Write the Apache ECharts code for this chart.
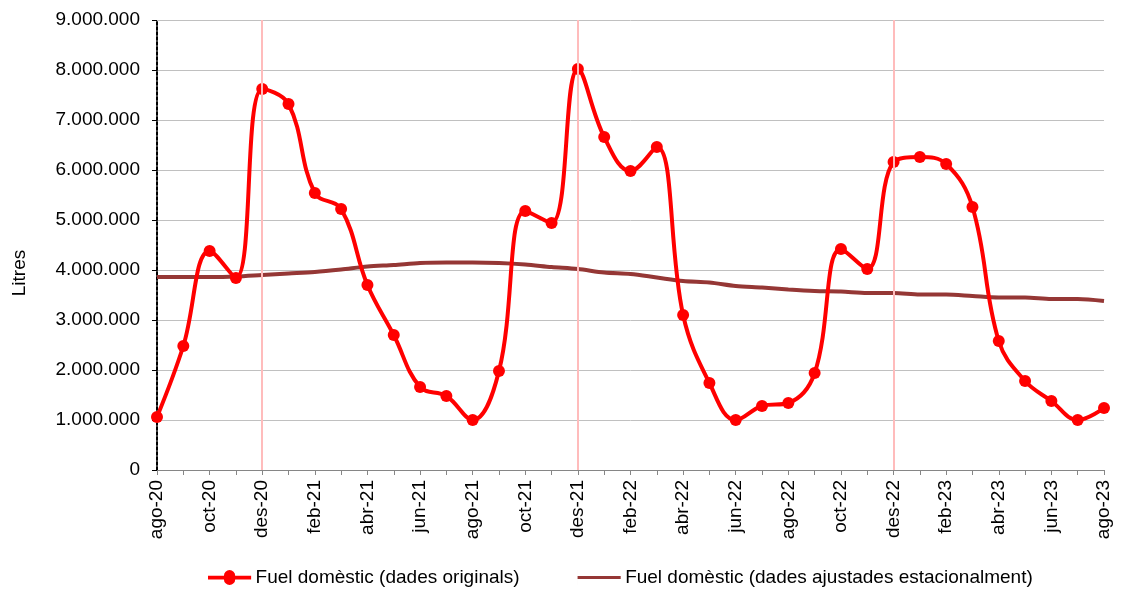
<!DOCTYPE html>
<html><head><meta charset="utf-8">
<script src="https://cdn.jsdelivr.net/npm/echarts@6/dist/echarts.min.js"></script>
<style>html,body{margin:0;padding:0;background:#fff}#c{width:1121px;height:592px}</style>
</head><body><div id="c"></div>
<script>
const categories = ['ago-20','set-20','oct-20','nov-20','des-20','gen-21','feb-21','mar-21','abr-21','mai-21','jun-21','jul-21',
 'ago-21','set-21','oct-21','nov-21','des-21','gen-22','feb-22','mar-22','abr-22','mai-22','jun-22','jul-22',
 'ago-22','set-22','oct-22','nov-22','des-22','gen-23','feb-23','mar-23','abr-23','mai-23','jun-23','jul-23','ago-23'];
const original = [1060000,2480000,4380000,3840000,7620000,7320000,5540000,5220000,3700000,2700000,1660000,1480000,
 1000000,1980000,5180000,4940000,8020000,6660000,5980000,6460000,3100000,1740000,1000000,1280000,
 1340000,1940000,4420000,4020000,6160000,6260000,6120000,5260000,2580000,1780000,1380000,1000000,1240000];
const adjusted = [3860000,3860000,3860000,3870000,3900000,3930000,3960000,4010000,4070000,4100000,4140000,4150000,
 4150000,4140000,4110000,4060000,4020000,3950000,3920000,3850000,3780000,3750000,3680000,3650000,
 3610000,3580000,3570000,3540000,3540000,3510000,3510000,3480000,3450000,3450000,3420000,3420000,3380000];
const markerMonths = ['des-20','des-21','des-22'];
const seriesNames = ['Fuel domèstic (dades originals)','Fuel domèstic (dades ajustades estacionalment)'];
const yAxisTitle = 'Litres';

const FONT = 'Liberation Sans, Arial, sans-serif';
const fmt = v => String(v).replace(/\B(?=(\d{3})+(?!\d))/g, '.');
const chart = echarts.init(document.getElementById('c'));
chart.setOption({
  animation:false,
  textStyle:{fontFamily:FONT},
  grid:{left:157,right:17,top:20,bottom:122},
  graphic:[{type:'text',x:20,y:273,rotation:Math.PI/2,
    style:{text:yAxisTitle,fontSize:19,fontFamily:FONT,fill:'#000',textAlign:'center',textVerticalAlign:'middle'}}],
  legend:{top:563,left:203,itemWidth:46,itemHeight:15,itemGap:58,
    textStyle:{fontSize:19,color:'#000',fontFamily:FONT,padding:[0,0,0,-2]},
    data:[{name:seriesNames[0],icon:'path://M0,5L17,5A6,6 0 0 1 29,5L46,5L46,9L29,9A6,6 0 0 1 17,9L0,9Z'},
          {name:seriesNames[1],icon:'path://M0,-1L0.01,-1L0.01,5.5L46,5.5L46,8.5L0.01,8.5L0.01,15L0,15Z'}]},
  xAxis:{type:'category',data:categories,boundaryGap:false,
    axisLine:{lineStyle:{color:'#868686',width:1}},
    axisTick:{show:true,interval:0,length:5,lineStyle:{color:'#868686'}},
    axisLabel:{interval:1,rotate:90,fontSize:19,color:'#000',margin:10,fontFamily:FONT},
    splitLine:{show:false}},
  yAxis:{type:'value',min:0,max:9000000,interval:1000000,
    axisLine:{show:true,lineStyle:{color:'#000',width:2,type:[3,2]}},
    axisTick:{show:true,length:5,lineStyle:{color:'#000'}},
    axisLabel:{fontSize:19,color:'#000',margin:17,formatter:fmt,fontFamily:FONT},
    splitLine:{show:true,lineStyle:{color:'#c0c0c0',width:1}}},
  series:[
    {name:seriesNames[1],type:'line',data:adjusted,smooth:0.3,symbol:'none',z:2,
      lineStyle:{color:'#953735',width:4},itemStyle:{color:'#953735'},
      markLine:{silent:true,symbol:'none',label:{show:false},
        lineStyle:{color:'#ffbcbc',width:2,type:'solid'},
        data:markerMonths.map(m=>({xAxis:m}))}},
    {name:seriesNames[0],type:'line',data:original,smooth:0.4,symbol:'circle',symbolSize:12,z:3,
      lineStyle:{color:'#ff0000',width:4},itemStyle:{color:'#ff0000'}}
  ]
});
</script></body></html>
